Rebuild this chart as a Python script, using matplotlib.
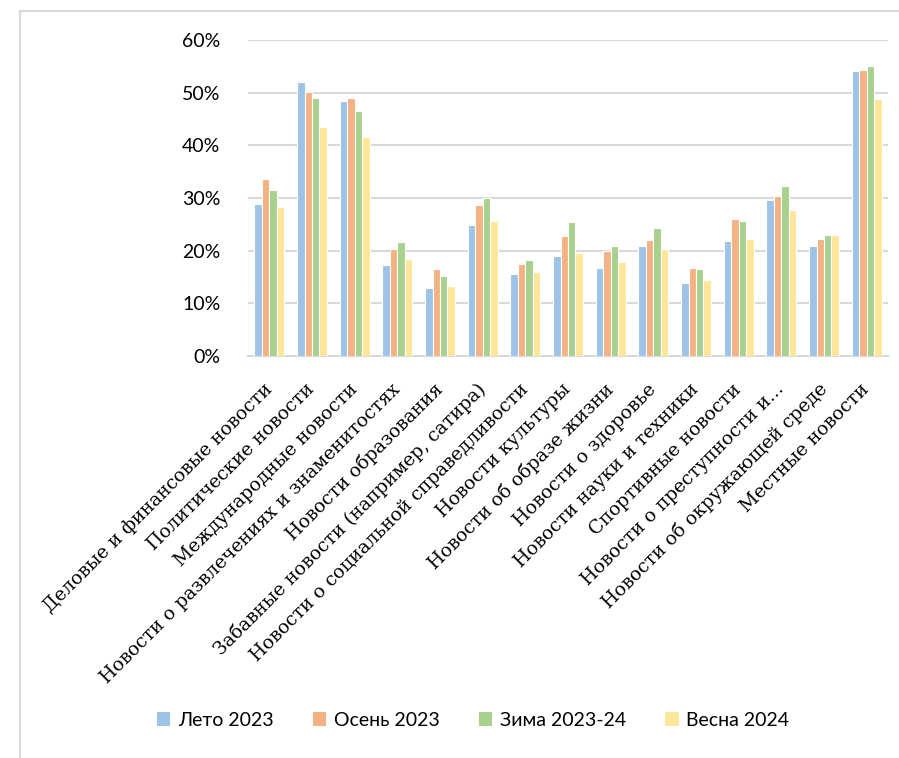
import numpy as np
import matplotlib.pyplot as plt
from matplotlib.patches import Patch
from matplotlib.lines import Line2D

categories = [
    "Деловые и финансовые новости",
    "Политические новости",
    "Международные новости",
    "Новости о развлечениях и знаменитостях",
    "Новости образования",
    "Забавные новости (например, сатира)",
    "Новости о социальной справедливости",
    "Новости культуры",
    "Новости об образе жизни",
    "Новости о здоровье",
    "Новости науки и техники",
    "Спортивные новости",
    "Новости о преступности и...",
    "Новости об окружающей среде",
    "Местные новости",
]
series = ["Лето 2023", "Осень 2023", "Зима 2023-24", "Весна 2024"]
leto_2023 = [28.9, 52.0, 48.4, 17.2, 13.0, 24.8, 15.5, 18.9, 16.8, 20.8, 13.9, 21.9, 29.6, 20.9, 54.1]
osen_2023 = [33.6, 50.1, 48.9, 20.3, 16.5, 28.7, 17.4, 22.8, 19.9, 22.0, 16.8, 26.1, 30.4, 22.2, 54.3]
zima_2023_24 = [31.6, 48.9, 46.5, 21.6, 15.1, 30.0, 18.2, 25.4, 20.9, 24.3, 16.6, 25.6, 32.3, 23.0, 55.0]
vesna_2024 = [28.2, 43.5, 41.5, 18.4, 13.2, 25.7, 15.9, 19.6, 17.8, 20.3, 14.4, 22.2, 27.7, 23.0, 48.8]
colors = ["#9DC3E6", "#F4B183", "#A9D18E", "#FFE699"]

values = [leto_2023, osen_2023, zima_2023_24, vesna_2024]

fig = plt.figure(figsize=(8.99, 7.58), dpi=100)
ax = fig.add_axes([248 / 899, 1 - 356 / 758, 640 / 899, 316 / 758])

x = np.arange(len(categories))
w = 0.175
for i, (vals, c) in enumerate(zip(values, colors)):
    ax.bar(x + (i - 1.5) * w, vals, width=w, color=c, edgecolor="white", linewidth=0.8, zorder=3)

ax.set_xlim(-0.5, len(categories) - 0.5)
ax.set_ylim(0, 60)
ax.set_yticks(range(0, 61, 10))
ax.set_yticklabels([f"{v}%" for v in range(0, 61, 10)], fontsize=14, family="Lato")
ax.yaxis.grid(True, color="#d9d9d9", linewidth=1.5, zorder=0)
ax.tick_params(axis="y", length=0, pad=20)
ax.tick_params(axis="x", length=0, pad=22)
ax.set_xticks(x)
ax.set_xticklabels(categories, rotation=45, ha="right", va="center",
                   rotation_mode="anchor", fontsize=13.5, family="DejaVu Serif")
for s in ["top", "right", "left"]:
    ax.spines[s].set_visible(False)
ax.spines["bottom"].set_color("#d9d9d9")
ax.spines["bottom"].set_linewidth(1.5)

# chart area frame (left and top edges visible)
fig.add_artist(Line2D([20 / 899, 20 / 899], [0, 1 - 11 / 758], color="#d9d9d9", linewidth=1.5))
fig.add_artist(Line2D([20 / 899, 1], [1 - 11 / 758, 1 - 11 / 758], color="#d9d9d9", linewidth=1.5))

handles = [Patch(facecolor=c, edgecolor="none") for c in colors]
fig.legend(handles, series, loc="center", bbox_to_anchor=(473 / 899, 1 - 720 / 758), ncol=4,
           frameon=False, prop={"family": "Lato", "size": 14}, handlelength=0.7, handleheight=0.7,
           handletextpad=0.4, columnspacing=2.0)

fig.savefig("out.png", dpi=100)
